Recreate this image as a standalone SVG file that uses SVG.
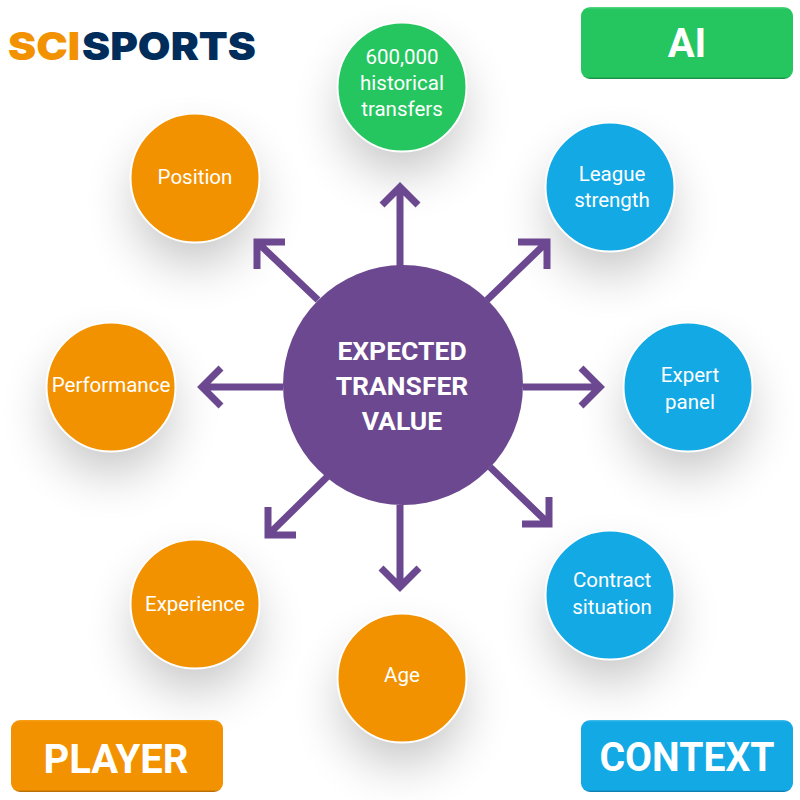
<svg xmlns="http://www.w3.org/2000/svg" width="800" height="800" viewBox="0 0 800 800">
<defs>
<filter id="sh" x="-80%" y="-80%" width="260%" height="260%"><feGaussianBlur stdDeviation="26"/></filter>
<linearGradient id="go" x1="0" y1="0" x2="0" y2="1"><stop offset="0" stop-color="#f9a21e"/><stop offset=".03" stop-color="#f39200"/><stop offset=".97" stop-color="#f39200"/><stop offset="1" stop-color="#a96505"/></linearGradient>
<linearGradient id="gg" x1="0" y1="0" x2="0" y2="1"><stop offset="0" stop-color="#5fd98a"/><stop offset=".03" stop-color="#25c660"/><stop offset=".97" stop-color="#25c660"/><stop offset="1" stop-color="#16803e"/></linearGradient>
<linearGradient id="gb" x1="0" y1="0" x2="0" y2="1"><stop offset="0" stop-color="#4cc0ec"/><stop offset=".03" stop-color="#13a9e5"/><stop offset=".97" stop-color="#13a9e5"/><stop offset="1" stop-color="#0c76a3"/></linearGradient>
</defs>
<style>
.s{fill:#000;opacity:.24;filter:url(#sh)}
.o{fill:#f39200;stroke:#fff;stroke-width:2}
.b{fill:#13a9e5;stroke:#fff;stroke-width:2}
.g{fill:#25c660;stroke:#fff;stroke-width:2}
.t{font-family:"Roboto","Liberation Sans",sans-serif;font-size:20.5px;fill:#fff;text-anchor:middle}
.h{font-family:"Roboto","Liberation Sans",sans-serif;font-size:26.5px;font-weight:700;fill:#fff;text-anchor:middle}
.k{font-family:"Roboto","Liberation Sans",sans-serif;font-size:40px;font-weight:700;fill:#fff;text-anchor:middle}
.a{fill:none;stroke:#6b488f;stroke-width:7;stroke-linejoin:miter}
.l{font-family:"Inter","Liberation Sans",sans-serif;font-size:39px;font-weight:900}
</style>
<rect width="800" height="800" fill="#fff"/>
<g id="shadows">
<circle class="s" cx="402" cy="112" r="60"/>
<circle class="s" cx="610" cy="212" r="60"/>
<circle class="s" cx="688" cy="412" r="60"/>
<circle class="s" cx="610" cy="620" r="60"/>
<circle class="s" cx="402" cy="703" r="60"/>
<circle class="s" cx="195" cy="629" r="60"/>
<circle class="s" cx="111" cy="412" r="60"/>
<circle class="s" cx="195" cy="203" r="60"/>
</g>
<g id="logo">
<text class="l" x="8" y="60" textLength="72" lengthAdjust="spacingAndGlyphs" fill="#f39200">SCI</text>
<text class="l" x="82" y="60" textLength="174" lengthAdjust="spacingAndGlyphs" fill="#002d5b">SPORTS</text>
</g>
<g id="connectors">
<path class="a" d="M400 266V187M382 205L400 187L418 205"/>
<path class="a" d="M318 300L257 242M257 269V242H285"/>
<path class="a" d="M487 300L547 242M518 242H547V269"/>
<path class="a" d="M523 387H601M581 368L600 387L581 406"/>
<path class="a" d="M490 467L548 523M549 497V524H522"/>
<path class="a" d="M400 505V587M381 568L400 587L419 568"/>
<path class="a" d="M327 477L268 535M268 507V535H296"/>
<path class="a" d="M283 387H202M221 368L202 387L221 406"/>
</g>
<g id="center"><circle cx="403" cy="385" r="120" fill="#6b488f"/>
<text class="h" x="402" y="360">EXPECTED</text><text class="h" x="402" y="395">TRANSFER</text><text class="h" x="402" y="430">VALUE</text></g>
<g id="n-transfers"><circle class="g" cx="402" cy="87" r="64.5"/><text class="t" x="402" y="64">600,000</text><text class="t" x="402" y="90">historical</text><text class="t" x="402" y="116">transfers</text></g>
<g id="n-league"><circle class="b" cx="610" cy="187" r="64.5"/><text class="t" x="612" y="181">League</text><text class="t" x="612" y="207">strength</text></g>
<g id="n-expert"><circle class="b" cx="688" cy="387" r="64.5"/><text class="t" x="690" y="382">Expert</text><text class="t" x="690" y="409">panel</text></g>
<g id="n-contract"><circle class="b" cx="610" cy="595" r="64.5"/><text class="t" x="612" y="587">Contract</text><text class="t" x="612" y="614">situation</text></g>
<g id="n-age"><circle class="o" cx="402" cy="678" r="64.5"/><text class="t" x="402" y="682">Age</text></g>
<g id="n-experience"><circle class="o" cx="195" cy="604" r="64.5"/><text class="t" x="195" y="611">Experience</text></g>
<g id="n-performance"><circle class="o" cx="111" cy="387" r="64.5"/><text class="t" x="111" y="392">Performance</text></g>
<g id="n-position"><circle class="o" cx="195" cy="178" r="64.5"/><text class="t" x="195" y="184">Position</text></g>
<g id="k-ai"><rect x="581" y="7" width="212" height="72" rx="9" fill="url(#gg)"/><text class="k" x="687" y="57">AI</text></g>
<g id="k-player"><rect x="11" y="720" width="212" height="72" rx="9" fill="url(#go)"/><text class="k" x="116" y="773">PLAYER</text></g>
<g id="k-context"><rect x="581" y="720" width="212" height="72" rx="9" fill="url(#gb)"/><text class="k" x="687" y="771" textLength="175" lengthAdjust="spacingAndGlyphs">CONTEXT</text></g>
</svg>
